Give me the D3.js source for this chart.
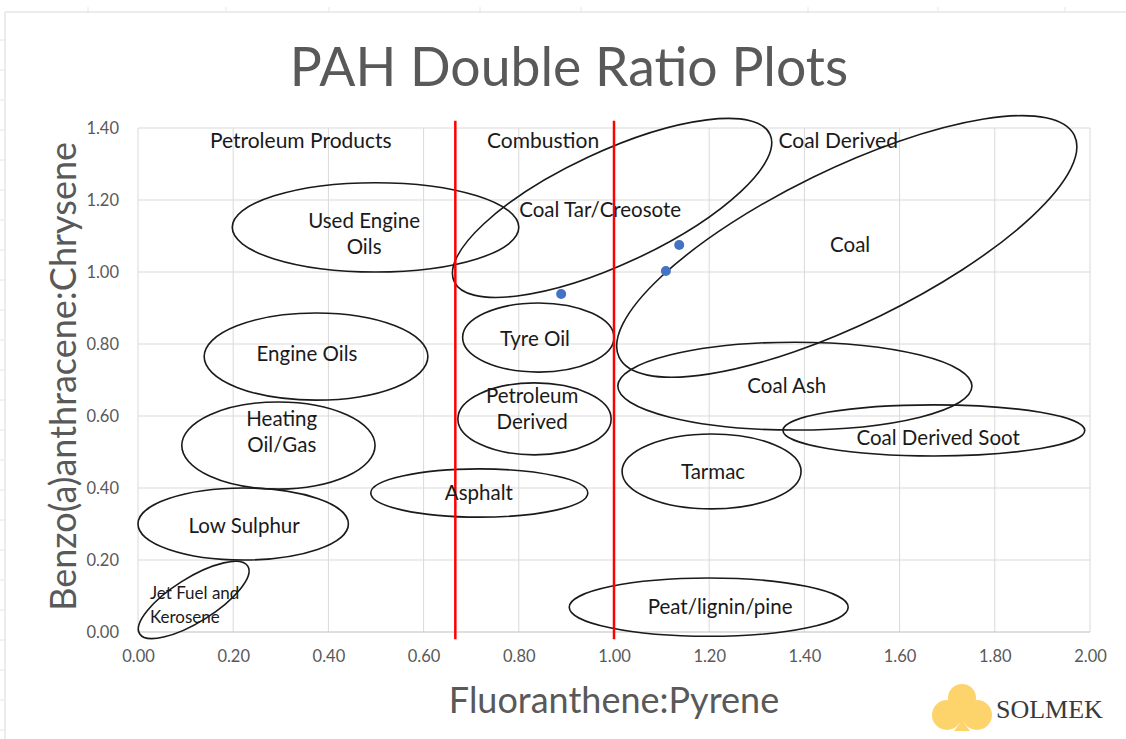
<!DOCTYPE html>
<html>
<head>
<meta charset="utf-8">
<script src="https://cdn.jsdelivr.net/npm/d3@7"></script>
<style>
  body { margin: 0; background: #fff; }
  svg { display: block; font-family: Lato, "Open Sans", sans-serif; }
</style>
</head>
<body>
<div id="chart"></div>
<script>
const width = 1126, height = 739;
const margin = { top: 128, right: 36, bottom: 107, left: 138 };

// axis ticks
const xTicks = [0, 0.2, 0.4, 0.6, 0.8, 1.0, 1.2, 1.4, 1.6, 1.8, 2.0];
const yTicks = [0, 0.2, 0.4, 0.6, 0.8, 1.0, 1.2, 1.4];

// source regions: centre (x,y), half axes (rx in x units, ry in y units), tilt in degrees
const regionNames = ["Used Engine Oils", "Engine Oils", "Heating Oil/Gas", "Low Sulphur",
  "Jet Fuel and Kerosene", "Asphalt", "Tyre Oil", "Petroleum Derived", "Coal Tar/Creosote",
  "Coal", "Coal Ash", "Coal Derived Soot", "Tarmac", "Peat/lignin/pine"];
const regionCx = [0.499, 0.374, 0.295, 0.221, 0.117, 0.717, 0.841, 0.833, 0.996, 1.489, 1.380, 1.672, 1.205, 1.199];
const regionCy = [1.124, 0.765, 0.518, 0.300, 0.089, 0.386, 0.818, 0.592, 1.178, 1.071, 0.683, 0.560, 0.446, 0.069];
const regionRx = [0.301, 0.235, 0.203, 0.221, 0.134, 0.228, 0.159, 0.161, 0.366, 0.532, 0.372, 0.317, 0.188, 0.293];
const regionRy = [0.124, 0.121, 0.121, 0.100, 0.061, 0.067, 0.096, 0.100, 0.156, 0.214, 0.122, 0.071, 0.104, 0.081];
const regionTilt = [0, 0, 0, 0, -32, 0, 0, 0, -25, -26, 0, 0, 0, 0];

// region labels (lines, position in data units)
const labelLines = [["Used Engine", "Oils"], ["Engine Oils"], ["Heating", "Oil/Gas"], ["Low Sulphur"],
  ["Jet Fuel and", "Kerosene"], ["Asphalt"], ["Tyre Oil"], ["Petroleum", "Derived"], ["Coal Tar/Creosote"],
  ["Coal"], ["Coal Ash"], ["Coal Derived Soot"], ["Tarmac"], ["Peat/lignin/pine"]];
const labelX = [0.475, 0.355, 0.302, 0.223, 0.025, 0.716, 0.834, 0.828, 0.971, 1.496, 1.363, 1.681, 1.208, 1.223];
const labelY = [1.107, 0.772, 0.556, 0.294, 0.075, 0.386, 0.814, 0.619, 1.172, 1.075, 0.683, 0.539, 0.444, 0.069];

// category headings
const headings = ["Petroleum Products", "Combustion", "Coal Derived"];
const headingX = [0.342, 0.851, 1.471];
const headingY = 1.364;

// boundaries
const boundaryX = [2 / 3, 1.0];
const boundaryY = [-0.02, 1.42];

// samples
const sampleX = [0.889, 1.109, 1.137];
const sampleY = [0.939, 1.003, 1.075];

const svg = d3.select("#chart").append("svg")
  .attr("width", width)
  .attr("height", height);

// spreadsheet frame behind the chart
svg.append("line").attr("x1", 5).attr("x2", width).attr("y1", 12).attr("y2", 12)
  .attr("stroke", "#d9d9d9");
svg.append("line").attr("x1", 5).attr("x2", 5).attr("y1", 12).attr("y2", height)
  .attr("stroke", "#d9d9d9");
[88, 226, 329, 480, 581, 808, 938, 1065].forEach(x => {
  svg.append("line").attr("x1", x).attr("x2", x).attr("y1", 7).attr("y2", 12).attr("stroke", "#e6e6e6");
});
d3.range(40, height, 30).forEach(y => {
  svg.append("line").attr("x1", 0).attr("x2", 5).attr("y1", y).attr("y2", y).attr("stroke", "#e6e6e6");
});

const xScale = d3.scaleLinear().domain([0, 2]).range([margin.left, width - margin.right]);
const yScale = d3.scaleLinear().domain([0, 1.4]).range([height - margin.bottom, margin.top]);

// gridlines
svg.append("g").selectAll("line")
  .data(xTicks).join("line")
  .attr("x1", d => xScale(d)).attr("x2", d => xScale(d))
  .attr("y1", yScale(0)).attr("y2", yScale(1.4))
  .attr("stroke", "#d9d9d9").attr("stroke-width", 1);
svg.append("g").selectAll("line")
  .data(yTicks).join("line")
  .attr("x1", xScale(0)).attr("x2", xScale(2))
  .attr("y1", d => yScale(d)).attr("y2", d => yScale(d))
  .attr("stroke", d => d === 0 ? "#bfbfbf" : "#d9d9d9").attr("stroke-width", 1);

// axes
const xAxis = d3.axisBottom(xScale).tickValues(xTicks).tickSize(0).tickPadding(18).tickFormat(d3.format(".2f"));
const yAxis = d3.axisLeft(yScale).tickValues(yTicks).tickSize(0).tickPadding(19).tickFormat(d3.format(".2f"));

const xAxisGroup = svg.append("g")
  .attr("transform", `translate(0, ${yScale(0)})`)
  .call(xAxis);
const yAxisGroup = svg.append("g")
  .attr("transform", `translate(${xScale(0)}, 0)`)
  .call(yAxis);
[xAxisGroup, yAxisGroup].forEach(g => {
  g.select(".domain").remove();
  g.selectAll("text")
    .attr("fill", "#595959")
    .style("font-family", "Lato, sans-serif")
    .style("font-size", "16.5px");
});

// region ellipses
const kx = xScale(1) - xScale(0);
const ky = yScale(0) - yScale(1);
svg.append("g").selectAll("ellipse")
  .data(regionNames).join("ellipse")
  .attr("cx", (d, i) => xScale(regionCx[i]))
  .attr("cy", (d, i) => yScale(regionCy[i]))
  .attr("rx", (d, i) => regionRx[i] * kx)
  .attr("ry", (d, i) => regionRy[i] * ky)
  .attr("transform", (d, i) => `rotate(${regionTilt[i]}, ${xScale(regionCx[i])}, ${yScale(regionCy[i])})`)
  .attr("fill", "none")
  .attr("stroke", "#1a1a1a")
  .attr("stroke-width", 1.6);

// boundary lines
svg.append("g").selectAll("line")
  .data(boundaryX).join("line")
  .attr("x1", d => xScale(d)).attr("x2", d => xScale(d))
  .attr("y1", yScale(boundaryY[0])).attr("y2", yScale(boundaryY[1]))
  .attr("stroke", "#ff0000").attr("stroke-width", 2.5);

// samples
svg.append("g").selectAll("circle")
  .data(sampleX).join("circle")
  .attr("cx", d => xScale(d))
  .attr("cy", (d, i) => yScale(sampleY[i]))
  .attr("r", 5)
  .attr("fill", "#4472c4");

// headings
svg.append("g").selectAll("text")
  .data(headings).join("text")
  .attr("x", (d, i) => xScale(headingX[i]))
  .attr("y", yScale(headingY) + 2)
  .attr("text-anchor", "middle")
  .attr("dominant-baseline", "middle")
  .attr("fill", "#1a1a1a")
  .style("font-size", "21px")
  .text(d => d);

// region labels
const labels = svg.append("g").selectAll("text")
  .data(labelLines).join("text")
  .attr("text-anchor", (d, i) => regionNames[i] === "Jet Fuel and Kerosene" ? "start" : "middle")
  .attr("fill", "#1a1a1a")
  .style("font-size", (d, i) => regionNames[i] === "Jet Fuel and Kerosene" ? "17px" : "20.5px");

labels.each(function (lines, i) {
  const small = regionNames[i] === "Jet Fuel and Kerosene";
  const lh = small ? 24 : 26;
  const y0 = yScale(labelY[i]) + 2 - (lines.length - 1) * lh / 2;
  d3.select(this).selectAll("tspan")
    .data(lines).join("tspan")
    .attr("x", xScale(labelX[i]))
    .attr("y", (d, j) => y0 + j * lh)
    .attr("dominant-baseline", "middle")
    .text(d => d);
});

// title and axis titles
svg.append("text")
  .attr("x", 569).attr("y", 86)
  .attr("text-anchor", "middle")
  .attr("fill", "#595959")
  .style("font-size", "53.5px")
  .text("PAH Double Ratio Plots");

svg.append("text")
  .attr("x", 614).attr("y", 713)
  .attr("text-anchor", "middle")
  .attr("fill", "#595959")
  .style("font-size", "36px")
  .text("Fluoranthene:Pyrene");

svg.append("text")
  .attr("transform", `translate(76, ${yScale(0.71)}) rotate(-90)`)
  .attr("text-anchor", "middle")
  .attr("fill", "#595959")
  .style("font-size", "36px")
  .text("Benzo(a)anthracene:Chrysene");

// logo
const logo = svg.append("g").attr("transform", "translate(962, 712)");
logo.append("circle").attr("cx", 0).attr("cy", -14).attr("r", 14).attr("fill", "#fdd36b");
logo.append("circle").attr("cx", -15).attr("cy", 3).attr("r", 15).attr("fill", "#fdd36b");
logo.append("circle").attr("cx", 15).attr("cy", 3).attr("r", 15).attr("fill", "#fdd36b");
logo.append("path").attr("d", "M-4,0 L4,0 L2,11 L8,19 L-8,19 L-2,11 Z").attr("fill", "#fdd36b");
svg.append("text")
  .attr("x", 996).attr("y", 718)
  .attr("fill", "#3a3a3a")
  .style("font-family", "'Liberation Serif', 'DejaVu Serif', serif")
  .style("font-size", "26px")
  .text("SOLMEK");
</script>
</body>
</html>
